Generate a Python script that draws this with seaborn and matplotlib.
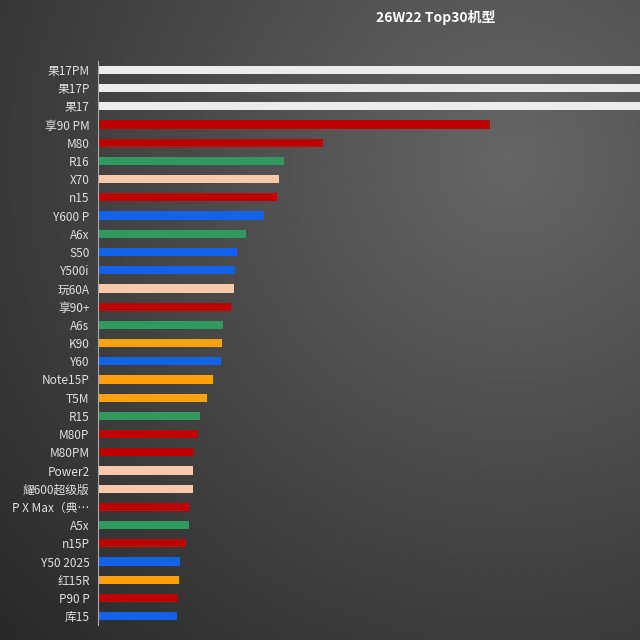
import numpy as np
import pandas as pd
import matplotlib
matplotlib.use("Agg")
import matplotlib.pyplot as plt
import seaborn as sns

models = ["果17PM","果17P","果17","享90 PM","M80","R16","X70","n15","Y600 P","A6x","S50","Y500i","玩60A","享90+","A6s","K90","Y60","Note15P","T5M","R15","M80P","M80PM","Power2","耀600超级版","P X Max（典…","A5x","n15P","Y50 2025","红15R","P90 P","库15"]
values = [700,660,620,392,225,186,181,179,166,148,139,137,136,133,125,124,123,115,109,102,100,96,95,95,91,91,88,82,81,80,79]
brands = ["apple","apple","apple","red","red","green","peach","red","blue","green","blue","blue","peach","red","green","orange","blue","orange","orange","green","red","red","peach","peach","red","green","red","blue","orange","red","blue"]
palette = {"apple":"#ececec","red":"#c00000","green":"#2f9960","peach":"#f9c9a9","blue":"#1262ea","orange":"#ffa20a"}

df = pd.DataFrame({"model":models,"value":values,"brand":brands})

sns.set_theme(style="dark")
plt.rcParams['font.family'] = ['Noto Sans CJK SC','DejaVu Sans']
fig = plt.figure(figsize=(6.4,6.4), dpi=100)

bg = fig.add_axes([0,0,1,1])
yy, xx = np.mgrid[0:1:300j, 0:1:300j]
d = np.sqrt((xx-0.8)**2 + (yy-0.25)**2)
g = np.clip(0.40 - 0.22*d, 0.16, 0.42)
bg.imshow(g, cmap="gray", vmin=0, vmax=1, extent=[0,1,0,1], aspect="auto", origin="upper")
bg.axis("off")

ax = fig.add_axes([0.153, 0.023, 0.847, 0.882])
ax.patch.set_alpha(0)
sns.barplot(data=df, y="model", x="value", hue="brand", palette=palette, dodge=False,
            legend=False, width=0.45, ax=ax, orient="h", saturation=1, linewidth=0)
ax.set_xlim(0, 542)
ax.set_xlabel(""); ax.set_ylabel("")
ax.set_xticks([])
ax.tick_params(axis="y", colors="#e0e0e0", labelsize=8.5, length=0, pad=6)
for s in ["top","right","bottom"]:
    ax.spines[s].set_visible(False)
ax.spines["left"].set_color("#aaaaaa")
ax.spines["left"].set_linewidth(0.8)
ax.grid(False)
fig.text(0.68, 0.972, "26W22 Top30机型", color="white", fontsize=10, fontweight="bold", ha="center", va="center")
fig.savefig("out.png", dpi=100)
